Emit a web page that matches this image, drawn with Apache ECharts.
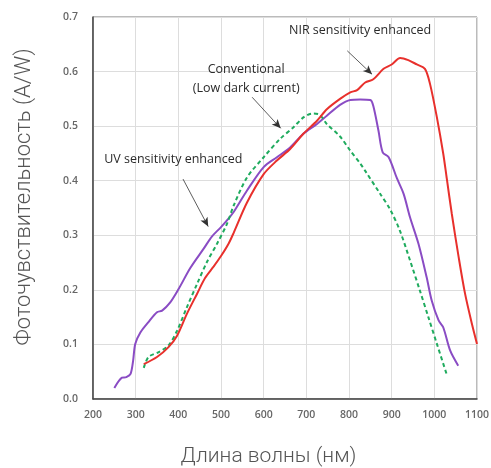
<!DOCTYPE html>
<html><head><meta charset="utf-8">
<script src="https://cdn.jsdelivr.net/npm/echarts@6/dist/echarts.min.js"></script>
<style>html,body{margin:0;padding:0;background:#fff}#c{width:491px;height:468px}</style>
</head><body><div id="c"></div>
<script>
// Wavelength (nm) and responsivity (A/W)
const uvWave = [250,268,278,288,294,299,311,330,350,362,381,401,428,459,479,500,518,530,561,600,631,662,693,725,748,779,803,826,850,857,869,879,893,912,928,943,963,982,994,1010,1021,1037,1056];
const uvResp = [0.020,0.039,0.040,0.046,0.070,0.101,0.122,0.141,0.159,0.162,0.177,0.202,0.240,0.275,0.298,0.315,0.331,0.343,0.382,0.425,0.443,0.461,0.486,0.504,0.519,0.539,0.548,0.549,0.548,0.537,0.492,0.452,0.443,0.405,0.376,0.333,0.284,0.223,0.180,0.144,0.131,0.089,0.061];
const convWave = [319,330,354,377,397,420,444,467,491,514,530,561,600,639,670,693,713,729,748,779,803,826,838,873,896,919,943,966,986,1006,1029];
const convResp = [0.057,0.077,0.086,0.098,0.125,0.168,0.211,0.251,0.285,0.321,0.355,0.406,0.443,0.477,0.498,0.516,0.523,0.522,0.504,0.481,0.455,0.432,0.418,0.376,0.348,0.309,0.254,0.199,0.150,0.101,0.045];
const nirWave = [319,350,377,397,420,444,463,482,500,518,530,561,600,631,662,693,725,748,779,803,819,838,857,881,900,920,939,959,978,990,1006,1021,1029,1041,1057,1072,1088,1100];
const nirResp = [0.064,0.077,0.095,0.116,0.156,0.193,0.222,0.242,0.262,0.285,0.305,0.360,0.412,0.437,0.458,0.486,0.510,0.531,0.550,0.562,0.566,0.580,0.586,0.605,0.613,0.625,0.621,0.613,0.605,0.577,0.516,0.449,0.405,0.339,0.260,0.193,0.138,0.101];

const xTicks = [200,300,400,500,600,700,800,900,1000,1100];
const yTicks = [0.0,0.1,0.2,0.3,0.4,0.5,0.6,0.7];

const xName = 'Длина волны (нм)';
const yName = 'Фоточувствительность (A/W)';

// Annotation texts anchored in data units
const labelTexts = ['NIR sensitivity enhanced', 'Conventional', '(Low dark current)', 'UV sensitivity enhanced'];
const labelAt = [[826,0.676],[559,0.603],[559,0.570],[388,0.439]];
const arrowFrom = [[796,0.638],[573,0.553],[411,0.403]];
const arrowTo = [[854,0.595],[640,0.496],[470,0.316]];

const zip = (a,b) => a.map((v,i)=>[v,b[i]]);

const chart = echarts.init(document.getElementById('c'));
chart.setOption({
  animation:false,
  grid:{left:93,right:14,top:17,bottom:69,show:true,borderColor:'#777',borderWidth:1,outerBoundsMode:'none',containLabel:false},
  xAxis:{type:'value',min:200,max:1100,interval:100,
    name:xName,nameLocation:'middle',nameGap:47,
    nameTextStyle:{fontFamily:'Roboto',fontWeight:300,fontSize:21,color:'#555',padding:[0,33,0,0]},
    axisLine:{show:true,lineStyle:{color:'#444',width:1.5}},axisTick:{show:false},
    axisLabel:{fontFamily:'Open Sans',fontWeight:600,fontSize:10.5,color:'#666',margin:11,
      formatter:v=>xTicks.includes(v)?String(v):''},
    splitLine:{show:true,lineStyle:{color:'#ddd',width:1}}},
  yAxis:{type:'value',min:0,max:0.7,interval:0.1,
    name:yName,nameLocation:'middle',nameGap:58,nameRotate:90,
    nameTextStyle:{fontFamily:'Roboto',fontWeight:300,fontSize:22,color:'#555',padding:[0,0,0,22]},
    axisLine:{show:true,lineStyle:{color:'#444',width:1.5}},axisTick:{show:false},
    axisLabel:{fontFamily:'Open Sans',fontWeight:600,fontSize:10.5,color:'#666',margin:15,
      formatter:v=>{const t=yTicks.find(y=>Math.abs(y-v)<1e-6);return t===undefined?'':t.toFixed(1);}},
    splitLine:{show:true,lineStyle:{color:'#ddd',width:1}}},
  series:[
    {type:'line',name:'UV',data:zip(uvWave,uvResp),showSymbol:false,smooth:0.3,
      lineStyle:{color:'#8a4cc4',width:2},z:3},
    {type:'line',name:'Conv',data:zip(convWave,convResp),showSymbol:false,smooth:0.3,
      lineStyle:{color:'#1fab5e',width:2,type:[4,3]},z:4},
    {type:'line',name:'NIR',data:zip(nirWave,nirResp),showSymbol:false,smooth:0.3,
      lineStyle:{color:'#e8302c',width:2},z:5},
    {type:'line',name:'ann',data:[],z:6,silent:true,
      markLine:{silent:true,animation:false,symbol:['none','arrow'],symbolSize:[6,9],
        lineStyle:{color:'#333',width:0.8,type:'solid'},label:{show:false},
        data:arrowFrom.map((f,i)=>[{coord:f},{coord:arrowTo[i]}])},
      markPoint:{silent:true,animation:false,symbol:'circle',symbolSize:0,
        label:{show:true,position:'inside',fontFamily:'Open Sans',fontSize:12.5,color:'#2a2a2a'},
        data:labelTexts.map((t,i)=>({coord:labelAt[i],value:t,label:{formatter:t}}))}}
  ]
});
</script></body></html>
